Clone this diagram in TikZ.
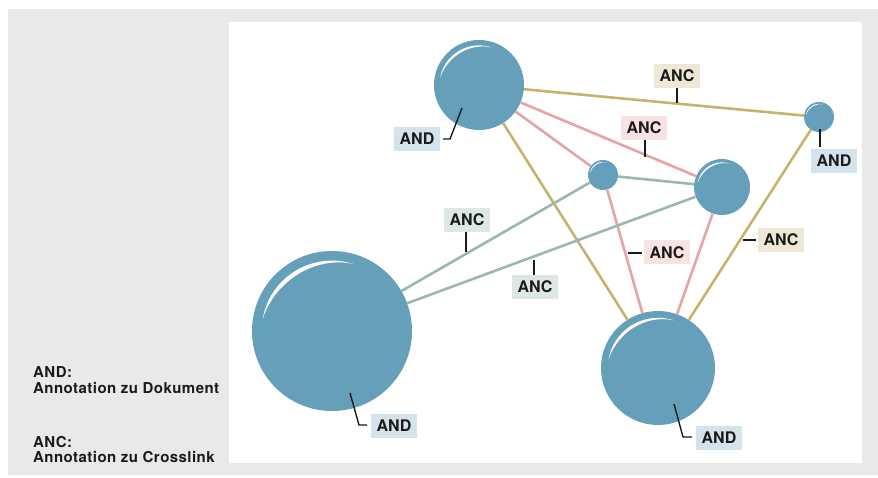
\documentclass[tikz,border=0pt]{standalone}
\usepackage{fontspec}
\setmainfont{TeX Gyre Heros}
\newfontfamily\legendfont[LetterSpace=3]{TeX Gyre Heros}
\usetikzlibrary{calc}
\definecolor{bggray}{HTML}{E8E9EB}
\definecolor{ballblue}{HTML}{659FBA}
\definecolor{goldline}{HTML}{C8B36C}
\definecolor{pinkline}{HTML}{E6A4A6}
\definecolor{greenline}{HTML}{98B9AB}
\definecolor{andbg}{HTML}{D4E2EC}
\definecolor{goldbg}{HTML}{EEE7D5}
\definecolor{pinkbg}{HTML}{F8E2E2}
\definecolor{greenbg}{HTML}{DEE8E3}
\definecolor{inkc}{HTML}{1A1A1A}
\tikzset{
  ball/.style={circle, fill=ballblue, draw=none, inner sep=0pt, minimum size=#1},
  goldedge/.style={draw=goldline, line width=2.6pt},
  pinkedge/.style={draw=pinkline, line width=2.6pt},
  greenedge/.style={draw=greenline, line width=2.6pt},
  tag/.style={inner sep=0pt, minimum width=46pt, minimum height=24pt, text=inkc,
    font=\bfseries\fontsize{16}{18}\selectfont},
  andtag/.style={tag, fill=andbg},
  goldtag/.style={tag, fill=goldbg},
  pinktag/.style={tag, fill=pinkbg},
  greentag/.style={tag, fill=greenbg},
  leader/.style={draw=inkc, line width=1.4pt},
  legend/.style={anchor=base west, inner sep=0pt, text=inkc,
    font=\legendfont\bfseries\fontsize{15}{16}\selectfont}
}
\newcommand\shine[2]{%
  \begin{scope}[shift={(#1.center)}]
    \fill[white] (170:{0.88*#2}) arc[start angle=170, end angle=72, radius={0.88*#2}]
      .. controls (103:{0.97*#2}) and (139:{0.945*#2}) .. cycle;
  \end{scope}}
\begin{document}
\begin{tikzpicture}[x=1pt, y=1pt]
\useasboundingbox (0,0) rectangle (878,477);
\fill[bggray] (8,2) rectangle (878,468);
\fill[white] (229,14) rectangle (862,455);
% circles
\node[ball=90pt]  (c1) at (479,392) {};
\node[ball=30pt]  (c2) at (819,360) {};
\node[ball=30pt]  (c3) at (603,302) {};
\node[ball=56pt]  (c4) at (722,290) {};
\node[ball=160pt] (c5) at (332,146) {};
\node[ball=114pt] (c6) at (658,109) {};
% edges
\path[goldedge] (c1) -- (c2);
\path[goldedge] (c1) -- (c6);
\path[goldedge] (c2) -- (c6);
\path[pinkedge] (c1) -- (c3);
\path[pinkedge] (c1) -- (c4);
\path[pinkedge] (c3) -- (c6);
\path[pinkedge] (c4) -- (c6);
\path[greenedge] (c3) -- (c4);
\path[greenedge] (c3) -- (c5);
\path[greenedge] (c4) -- (c5);
% highlights
\shine{c1}{45}
\shine{c2}{15}
\shine{c3}{15}
\shine{c4}{28}
\shine{c5}{80}
\shine{c6}{57}
% AND labels
\node[andtag] (a1) at (417,338) {AND};
\node[andtag] (a2) at (834,316) {AND};
\node[andtag] (a5) at (394,51.5) {AND};
\node[andtag] (a6) at (719,39) {AND};
\coordinate (a1p) at (462,369); \coordinate (a1k) at (450,338); \coordinate (a1e) at (443,338);
\coordinate (a2p) at (820,348); \coordinate (a2e) at (820,330);
\coordinate (a5p) at (350,84);  \coordinate (a5k) at (359,52);  \coordinate (a5e) at (367,52);
\coordinate (a6p) at (674,73);  \coordinate (a6k) at (683,40);  \coordinate (a6e) at (692,40);
\draw[leader] (a1p) -- (a1k) -- (a1e);
\draw[leader] (a2p) -- (a2e);
\draw[leader] (a5p) -- (a5k) -- (a5e);
\draw[leader] (a6p) -- (a6k) -- (a6e);
% ANC labels
\node[goldtag]  (g1) at (677,401) {ANC};
\node[pinktag]  (p1) at (644,349) {ANC};
\node[greentag] (n1) at (467,257) {ANC};
\node[greentag] (n2) at (535,190) {ANC};
\node[pinktag]  (p2) at (667,224.5) {ANC};
\node[goldtag]  (g2) at (781,237) {ANC};
\coordinate (g1t) at (677,374);
\coordinate (p1t) at (645,320);
\coordinate (n1t) at (466,225);
\coordinate (n2t) at (534,217);
\coordinate (p2t) at (628,224);
\coordinate (g2t) at (743,237);
\draw[leader] (g1.south -| g1t) -- (g1t);
\draw[leader] (p1.south -| p1t) -- (p1t);
\draw[leader] (n1.south -| n1t) -- (n1t);
\draw[leader] (n2.north -| n2t) -- (n2t);
\draw[leader] ([xshift=-2pt]p2.west |- p2t) -- (p2t);
\draw[leader] ([xshift=-2pt]g2.west |- g2t) -- (g2t);
% legend
\node[legend] (l1) at (33,100) {AND:};
\node[legend] (l2) at (33,84) {Annotation zu Dokument};
\node[legend] (l3) at (33,30) {ANC:};
\node[legend] (l4) at (33,15) {Annotation zu Crosslink};
\end{tikzpicture}
\end{document}
